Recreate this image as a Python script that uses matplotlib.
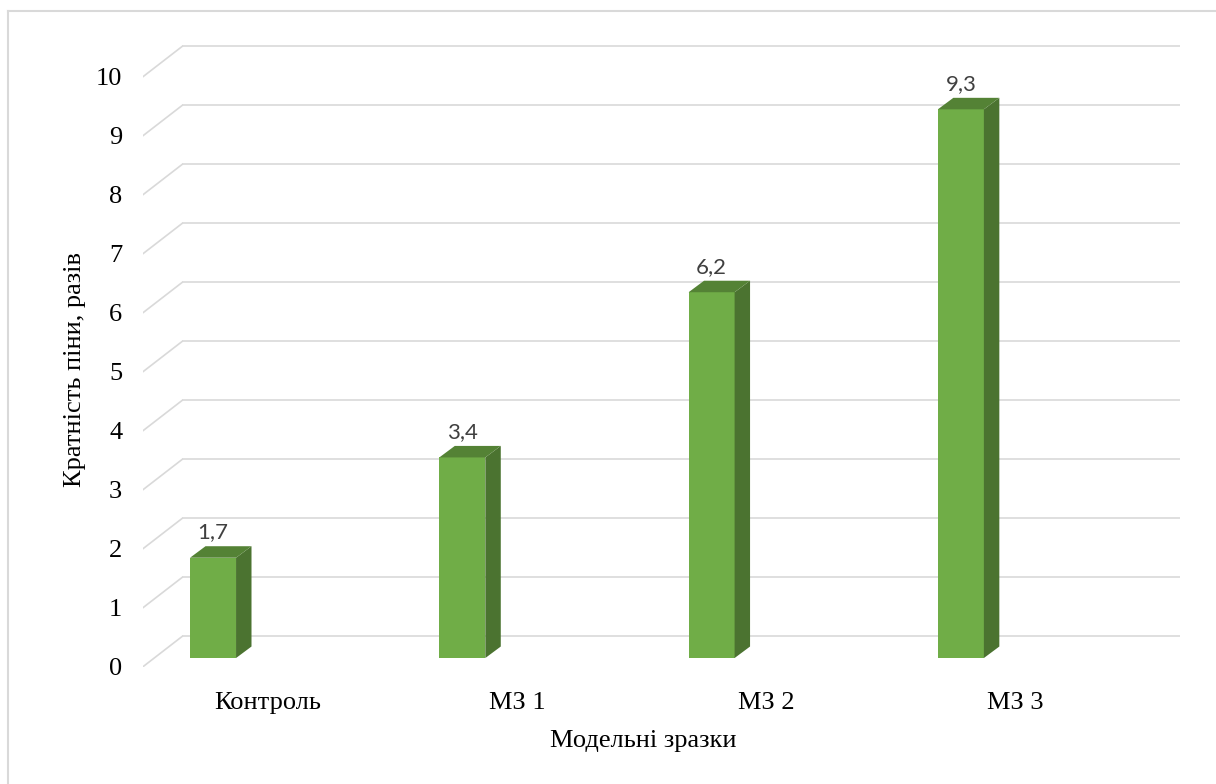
import matplotlib.pyplot as plt
from matplotlib.patches import Polygon
from matplotlib.lines import Line2D

# data
categories = ["Контроль", "МЗ 1", "МЗ 2", "МЗ 3"]
values = [1.7, 3.4, 6.2, 9.3]
value_labels = ["1,7", "3,4", "6,2", "9,3"]
y_ticks = list(range(0, 11))

# 3d look (data units)
bar_w = 0.1845
depth_x = 0.062
depth_y = 0.195
back_shift = 0.366     # back wall vs bar front plane
wall_x = -0.124
front_drop = -0.147
label_off = 0.22

col_front = "#70AD47"
col_side = "#4B7330"
col_top = "#548235"
grid_col = "#D9D9D9"

serif = "Liberation Serif"

fig = plt.figure(figsize=(12.16, 7.84), dpi=100)
ax = fig.add_axes([143 / 1216, (784 - 666.7) / 784, (1180 - 143) / 1216, (666.7 - 40) / 784])
ax.set_xlim(-0.281, 3.879)
ax.set_ylim(front_drop, 10.475)

# gridlines: back wall + diagonal on the side wall
for v in y_ticks:
	ax.plot([wall_x, 3.879], [v + back_shift, v + back_shift], color=grid_col, lw=1.2, zorder=1, solid_capstyle="butt")
	ax.plot([-0.281, wall_x], [v + front_drop, v + back_shift], color=grid_col, lw=1.2, zorder=1)
#end_for

for i in range(len(values)):
	v = values[i]
	x0 = i - bar_w / 2
	x1 = i + bar_w / 2
	ax.bar(i, v, width=bar_w, color=col_front, zorder=3, linewidth=0)
	side = Polygon([[x1, 0], [x1 + depth_x, depth_y], [x1 + depth_x, v + depth_y], [x1, v]],
		closed=True, facecolor=col_side, edgecolor="none", zorder=3)
	top = Polygon([[x0, v], [x1, v], [x1 + depth_x, v + depth_y], [x0 + depth_x, v + depth_y]],
		closed=True, facecolor=col_top, edgecolor="none", zorder=3)
	ax.add_patch(side)
	ax.add_patch(top)
	ax.text(i, v + 0.43, value_labels[i], ha="center", va="center", fontsize=16,
		family="Lato", color="#404040", zorder=4)
#end_for

ax.set_yticks([v + front_drop for v in y_ticks])
ax.set_yticklabels([str(v) for v in y_ticks], fontsize=19, family=serif)
ax.set_xticks([i + label_off for i in range(len(categories))])
ax.set_xticklabels(categories, fontsize=19, family=serif)
ax.tick_params(axis="y", length=0, pad=15)
ax.tick_params(axis="x", length=0, pad=18)
for s in ax.spines.values():
	s.set_visible(False)
#end_for
ax.patch.set_alpha(0)

fig.text(643 / 1216, 1 - 741 / 784, "Модельні зразки", ha="center", va="center", fontsize=19, family=serif)
fig.text(75 / 1216, 1 - 370 / 784, "Кратність піни, разів", ha="center", va="center", rotation=90,
	fontsize=19, family=serif)

# outer frame (top and left visible)
fig.add_artist(Line2D([8 / 1216, 1], [1 - 11 / 784, 1 - 11 / 784], color=grid_col, lw=1.5))
fig.add_artist(Line2D([8 / 1216, 8 / 1216], [0, 1 - 11 / 784], color=grid_col, lw=1.5))

fig.savefig("out.png", dpi=100)
